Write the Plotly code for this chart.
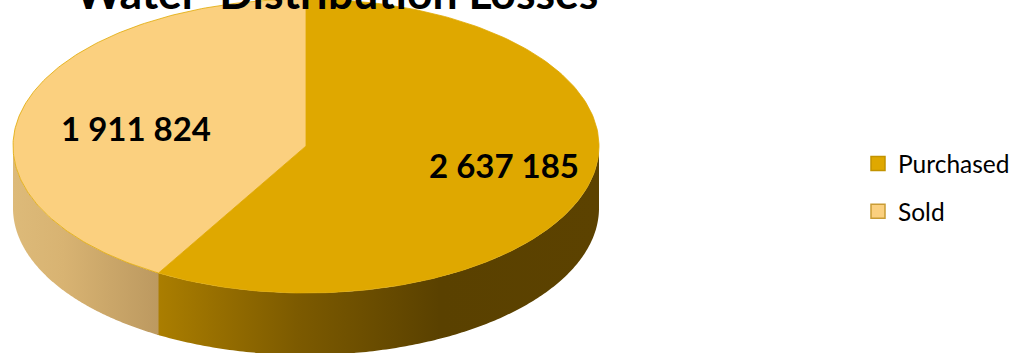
import numpy as np
import plotly.graph_objects as go

# Values shown on the pie
categories = ["Purchased", "Sold"]
volumes = [2637185, 1911824]
title_text = "Water\u00a0 Distribution Losses"

# Ellipse of the tilted disc, in plot units
CX, CY, RX, RY, DEPTH = 306, 146, 293, 147, 62
TILT_DRIFT = 1.8  # degrees of angular drift caused by the disc's tilt
FONT = "Lato"
TOP_COLORS = ["#DFA800", "#FBD07F"]
EDGE_COLORS = ["#C29300", "#C99C35"]
SIDE_SCALES = [
    [[0, "#AB7E00"], [0.32, "#7C5A00"], [0.64, "#5A4100"], [1, "#5C4200"]],
    [[0, "#DDBA79"], [0.35, "#D8B372"], [1, "#BC9960"]],
]


def tilted(deg):
    """Screen angle of a pie angle on the tilted disc."""
    return deg + TILT_DRIFT * np.sin(np.radians(2 * deg))


def rim(start_deg, end_deg, n=180):
    """Points along the upper rim, clockwise from twelve o'clock."""
    t = np.radians(np.linspace(start_deg, end_deg, n))
    return CX + RX * np.sin(t), CY - RY * np.cos(t)


fractions = np.array(volumes) / sum(volumes)
bounds = tilted(np.concatenate([[0], np.cumsum(fractions) * 360]))

fig = go.Figure()

# Visible wall of the disc: only the lower half of the rim faces the viewer.
# The first wall runs slightly under the second so no seam shows between them.
for i, name in enumerate(categories):
    a, b = max(bounds[i], 90), min(bounds[i + 1] + (0.4 if i == 0 else 0), 270)
    x, y = rim(a, b)
    fig.add_trace(go.Scatter(
        x=np.concatenate([x, x[::-1]]), y=np.concatenate([y, y[::-1] + DEPTH]),
        mode="none", fill="toself", showlegend=False, hoverinfo="skip",
        fillgradient=dict(type="horizontal", colorscale=SIDE_SCALES[i]),
    ))

# Top faces of the two slices
for i, name in enumerate(categories):
    x, y = rim(bounds[i], bounds[i + 1])
    fig.add_trace(go.Scatter(
        x=np.concatenate([[CX], x, [CX]]), y=np.concatenate([[CY], y, [CY]]),
        mode="lines", fill="toself", fillcolor=TOP_COLORS[i],
        line=dict(color=TOP_COLORS[0], width=0.8),
        showlegend=False, name=name,
    ))

# Value labels
label_x = [504, 136]
label_y = [170, 133]
fig.add_trace(go.Scatter(
    x=label_x, y=label_y, mode="text",
    text=[f"{v:,}".replace(",", " ") for v in volumes],
    textposition="middle center",
    textfont=dict(family=FONT, size=33, color="#000000", weight="bold"),
    showlegend=False, hoverinfo="skip", cliponaxis=False,
))

# Legend entries
for i, name in enumerate(categories):
    fig.add_trace(go.Scatter(
        x=[None], y=[None], mode="markers", name=name, legendgroup=name,
        marker=dict(symbol="square", size=14, color=TOP_COLORS[i],
                    line=dict(color=EDGE_COLORS[i], width=1.5)),
    ))

fig.update_layout(
    width=1024, height=353,
    margin=dict(l=0, r=0, t=0, b=0),
    paper_bgcolor="#FFFFFF", plot_bgcolor="#FFFFFF",
    xaxis=dict(range=[0, 1024], visible=False, fixedrange=True),
    yaxis=dict(range=[353, 0], visible=False, fixedrange=True),
    title=dict(text=title_text, x=0.329, xanchor="center", y=0.975, yanchor="bottom",
               font=dict(family=FONT, size=44.5, color="#000000", weight="bold")),
    legend=dict(x=858 / 1024, xanchor="left", y=1 - 141 / 353, yanchor="top",
                font=dict(family=FONT, size=24.5, color="#000000"),
                tracegroupgap=13, bgcolor="rgba(0,0,0,0)", itemwidth=30),
)

fig.write_html("out.html")
